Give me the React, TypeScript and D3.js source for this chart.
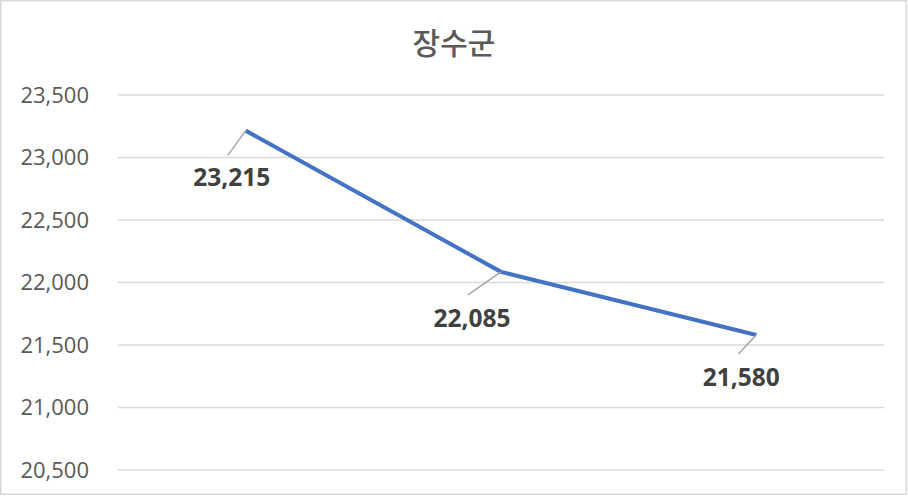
import React from "react";
import * as d3 from "d3";

const title = "장수군";
const categories = ["1", "2", "3"];
const values = [23215, 22085, 21580];
const yTicks = [20500, 21000, 21500, 22000, 22500, 23000, 23500];

const W = 908;
const H = 496;

export default function App() {
  const x = d3.scaleBand<string>().domain(categories).range([118, 884]);
  const y = d3.scaleLinear().domain([20500, 23500]).range([470, 95]);
  const fmt = d3.format(",");
  const line = d3
    .line<number>()
    .x((_, i) => (x(categories[i]) as number) + x.bandwidth() / 2)
    .y((d) => y(d));

  const labelOffsets = [
    { lx: -18, ly: 25, tx: -14, ty: 55 },
    { lx: -33, ly: 23, tx: -29, ty: 55 },
    { lx: -18, ly: 19, tx: -15, ty: 51 },
  ];

  return (
    <svg
      width={W}
      height={H}
      style={{ position: "fixed", left: 0, top: 0, background: "#fff" }}
    >
      <rect x={0} y={0} width={W} height={H} fill="#fff" />
      <rect
        x={0.75}
        y={0.75}
        width={W - 2.5}
        height={H - 2.5}
        fill="none"
        stroke="#d9d9d9"
        strokeWidth={1.5}
      />
      <text
        x={454}
        y={54}
        textAnchor="middle"
        fontFamily="'Noto Sans CJK KR', sans-serif"
        fontSize={30}
        fontWeight={500}
        fill="#595959"
      >
        {title}
      </text>
      {yTicks.map((t) => (
        <g key={t}>
          <line
            x1={118}
            x2={884}
            y1={y(t)}
            y2={y(t)}
            stroke="#d9d9d9"
            strokeWidth={1.5}
          />
          <text
            x={89}
            y={y(t)}
            dy="0.36em"
            textAnchor="end"
            fontFamily="'Open Sans', 'Noto Sans', sans-serif"
            fontSize={22}
            fill="#595959"
          >
            {fmt(t)}
          </text>
        </g>
      ))}
      <path
        d={line(values) || ""}
        fill="none"
        stroke="#4472C4"
        strokeWidth={4}
        strokeLinejoin="round"
      />
      {values.map((v, i) => {
        const px = (x(categories[i]) as number) + x.bandwidth() / 2;
        const py = y(v);
        const o = labelOffsets[i];
        return (
          <g key={i}>
            <line
              x1={px}
              y1={py}
              x2={px + o.lx}
              y2={py + o.ly}
              stroke="#a6a6a6"
              strokeWidth={1.5}
            />
            <text
              x={px + o.tx}
              y={py + o.ty}
              textAnchor="middle"
              fontFamily="'Open Sans', 'Noto Sans', sans-serif"
              fontWeight="bold"
              fontSize={24.5}
              fill="#404040"
            >
              {fmt(v)}
            </text>
          </g>
        );
      })}
    </svg>
  );
}
